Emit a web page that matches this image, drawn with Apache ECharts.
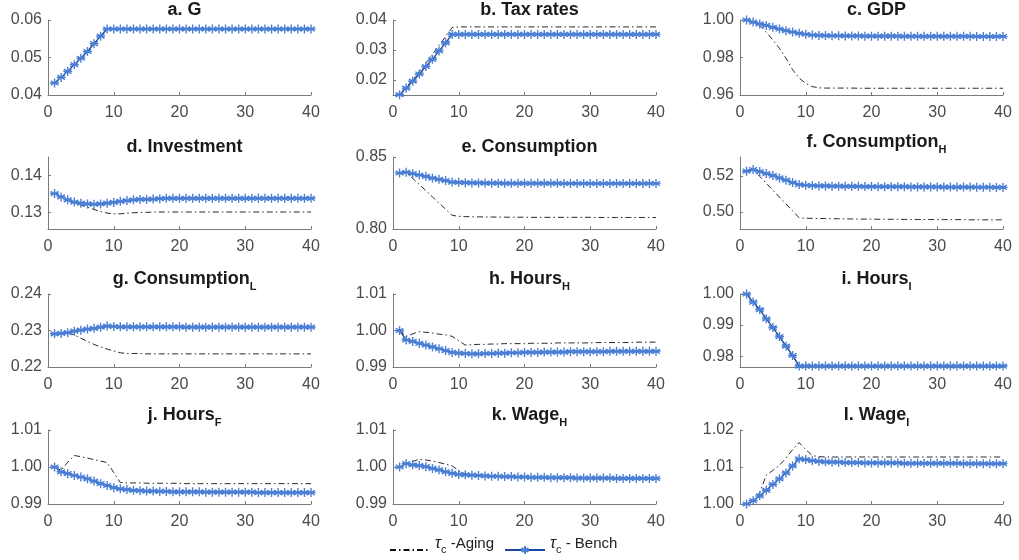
<!DOCTYPE html>
<html>
<head>
<meta charset="utf-8">
<script src="https://cdn.jsdelivr.net/npm/echarts@6/dist/echarts.min.js"></script>
<style>
  html, body { margin: 0; padding: 0; background: #fff; }
  #chart { width: 1019px; height: 560px; }
</style>
</head>
<body>
<div id="chart"></div>
<script>
// periods on the x axis
var periods = [1, 2, 3, 4, 5, 6, 7, 8, 9, 10, 11, 12, 13, 14, 15, 16, 17, 18, 19, 20,
  21, 22, 23, 24, 25, 26, 27, 28, 29, 30, 31, 32, 33, 34, 35, 36, 37, 38, 39, 40];

// a. G
var gBench = [0.0432, 0.0447, 0.0463, 0.0481, 0.0498, 0.0516, 0.0537, 0.0557, 0.0576, 0.0576,
  0.0576, 0.0576, 0.0576, 0.0576, 0.0576, 0.0576, 0.0576, 0.0576, 0.0576, 0.0576,
  0.0576, 0.0576, 0.0576, 0.0576, 0.0576, 0.0576, 0.0576, 0.0576, 0.0576, 0.0576,
  0.0576, 0.0576, 0.0576, 0.0576, 0.0576, 0.0576, 0.0576, 0.0576, 0.0576, 0.0576];
var gAging = [0.0432, 0.0447, 0.0463, 0.0481, 0.0498, 0.0516, 0.0537, 0.0557, 0.0576, 0.0576,
  0.0576, 0.0576, 0.0576, 0.0576, 0.0576, 0.0576, 0.0576, 0.0576, 0.0576, 0.0576,
  0.0576, 0.0576, 0.0576, 0.0576, 0.0576, 0.0576, 0.0576, 0.0576, 0.0576, 0.0576,
  0.0576, 0.0576, 0.0576, 0.0576, 0.0576, 0.0576, 0.0576, 0.0576, 0.0576, 0.0576];

// b. Tax rates
var taxBench = [0.0151, 0.0173, 0.0196, 0.0220, 0.0245, 0.0269, 0.0297, 0.0324, 0.0352, 0.0352,
  0.0352, 0.0352, 0.0352, 0.0352, 0.0352, 0.0352, 0.0352, 0.0352, 0.0352, 0.0352,
  0.0352, 0.0352, 0.0352, 0.0352, 0.0352, 0.0352, 0.0352, 0.0352, 0.0352, 0.0352,
  0.0352, 0.0352, 0.0352, 0.0352, 0.0352, 0.0352, 0.0352, 0.0352, 0.0352, 0.0352];
var taxAging = [0.0150, 0.0176, 0.0201, 0.0228, 0.0256, 0.0285, 0.0315, 0.0345, 0.0375, 0.0377,
  0.0377, 0.0377, 0.0377, 0.0377, 0.0377, 0.0377, 0.0377, 0.0377, 0.0377, 0.0377,
  0.0377, 0.0377, 0.0377, 0.0377, 0.0377, 0.0377, 0.0377, 0.0377, 0.0377, 0.0377,
  0.0377, 0.0377, 0.0377, 0.0377, 0.0377, 0.0377, 0.0377, 0.0377, 0.0377, 0.0377];

// c. GDP
var gdpBench = [1.0000, 0.9989, 0.9979, 0.9971, 0.9961, 0.9952, 0.9943, 0.9936, 0.9929, 0.9924,
  0.9920, 0.9918, 0.9917, 0.9916, 0.9916, 0.9915, 0.9915, 0.9915, 0.9914, 0.9914,
  0.9914, 0.9914, 0.9914, 0.9914, 0.9913, 0.9913, 0.9913, 0.9913, 0.9913, 0.9913,
  0.9913, 0.9913, 0.9913, 0.9913, 0.9913, 0.9912, 0.9912, 0.9912, 0.9912, 0.9912];
var gdpAging = [1.0000, 0.9987, 0.9972, 0.9935, 0.9893, 0.9849, 0.9796, 0.9735, 0.9690, 0.9662,
  0.9645, 0.9638, 0.9637, 0.9637, 0.9637, 0.9637, 0.9637, 0.9636, 0.9636, 0.9636,
  0.9636, 0.9636, 0.9636, 0.9636, 0.9636, 0.9636, 0.9636, 0.9636, 0.9636, 0.9636,
  0.9636, 0.9636, 0.9636, 0.9636, 0.9636, 0.9636, 0.9636, 0.9636, 0.9636, 0.9636];

// d. Investment
var invBench = [0.1351, 0.1342, 0.1334, 0.1328, 0.1325, 0.1323, 0.1322, 0.1323, 0.1325, 0.1327,
  0.1330, 0.1332, 0.1334, 0.1335, 0.1335, 0.1336, 0.1337, 0.1338, 0.1338, 0.1338,
  0.1338, 0.1338, 0.1338, 0.1338, 0.1338, 0.1338, 0.1338, 0.1338, 0.1338, 0.1338,
  0.1338, 0.1338, 0.1338, 0.1338, 0.1338, 0.1338, 0.1338, 0.1338, 0.1338, 0.1338];
var invAging = [0.1351, 0.1342, 0.1333, 0.1326, 0.1320, 0.1314, 0.1308, 0.1302, 0.1298, 0.1296,
  0.1296, 0.1298, 0.1299, 0.1300, 0.1300, 0.1301, 0.1301, 0.1301, 0.1301, 0.1301,
  0.1301, 0.1301, 0.1301, 0.1301, 0.1301, 0.1301, 0.1301, 0.1301, 0.1301, 0.1301,
  0.1301, 0.1301, 0.1301, 0.1301, 0.1301, 0.1301, 0.1301, 0.1301, 0.1301, 0.1301];

// e. Consumption
var consBench = [0.8389, 0.8394, 0.8384, 0.8375, 0.8366, 0.8354, 0.8345, 0.8336, 0.8326, 0.8324,
  0.8322, 0.8320, 0.8320, 0.8319, 0.8318, 0.8318, 0.8317, 0.8317, 0.8317, 0.8317,
  0.8317, 0.8317, 0.8317, 0.8317, 0.8317, 0.8316, 0.8316, 0.8316, 0.8316, 0.8316,
  0.8316, 0.8316, 0.8316, 0.8316, 0.8316, 0.8316, 0.8316, 0.8316, 0.8316, 0.8316];
var consAging = [0.8389, 0.8394, 0.8351, 0.8309, 0.8266, 0.8223, 0.8180, 0.8138, 0.8095, 0.8088,
  0.8086, 0.8085, 0.8084, 0.8084, 0.8083, 0.8083, 0.8082, 0.8082, 0.8082, 0.8082,
  0.8081, 0.8081, 0.8081, 0.8081, 0.8081, 0.8081, 0.8081, 0.8081, 0.8081, 0.8081,
  0.8080, 0.8080, 0.8080, 0.8080, 0.8080, 0.8080, 0.8080, 0.8080, 0.8080, 0.8080];

// f. Consumption_H
var consHBench = [0.5226, 0.5235, 0.5224, 0.5213, 0.5202, 0.5189, 0.5176, 0.5163, 0.5152, 0.5148,
  0.5146, 0.5144, 0.5144, 0.5143, 0.5143, 0.5142, 0.5142, 0.5142, 0.5141, 0.5141,
  0.5140, 0.5140, 0.5140, 0.5140, 0.5140, 0.5139, 0.5139, 0.5139, 0.5139, 0.5139,
  0.5138, 0.5138, 0.5138, 0.5138, 0.5138, 0.5137, 0.5137, 0.5137, 0.5136, 0.5136];
var consHAging = [0.5226, 0.5235, 0.5197, 0.5159, 0.5120, 0.5082, 0.5044, 0.5006, 0.4967, 0.4965,
  0.4964, 0.4963, 0.4963, 0.4962, 0.4962, 0.4961, 0.4961, 0.4960, 0.4960, 0.4960,
  0.4959, 0.4959, 0.4959, 0.4959, 0.4958, 0.4958, 0.4958, 0.4958, 0.4958, 0.4957,
  0.4957, 0.4957, 0.4957, 0.4957, 0.4956, 0.4956, 0.4956, 0.4956, 0.4956, 0.4956];

// g. Consumption_L
var consLBench = [0.2291, 0.2292, 0.2294, 0.2298, 0.2301, 0.2304, 0.2306, 0.2309, 0.2312, 0.2311,
  0.2310, 0.2310, 0.2310, 0.2310, 0.2310, 0.2310, 0.2310, 0.2310, 0.2310, 0.2310,
  0.2309, 0.2309, 0.2309, 0.2309, 0.2309, 0.2309, 0.2309, 0.2309, 0.2309, 0.2309,
  0.2309, 0.2309, 0.2309, 0.2309, 0.2309, 0.2309, 0.2309, 0.2309, 0.2309, 0.2309];
var consLAging = [0.2291, 0.2292, 0.2294, 0.2288, 0.2279, 0.2270, 0.2262, 0.2255, 0.2249, 0.2244,
  0.2239, 0.2237, 0.2237, 0.2237, 0.2236, 0.2236, 0.2236, 0.2236, 0.2236, 0.2236,
  0.2236, 0.2236, 0.2236, 0.2236, 0.2236, 0.2236, 0.2236, 0.2236, 0.2236, 0.2236,
  0.2236, 0.2236, 0.2236, 0.2236, 0.2236, 0.2236, 0.2236, 0.2236, 0.2236, 0.2236];

// h. Hours_H
var hoursHBench = [1.0000, 0.9974, 0.9970, 0.9965, 0.9960, 0.9955, 0.9950, 0.9945, 0.9940, 0.9938,
  0.9937, 0.9936, 0.9936, 0.9937, 0.9937, 0.9938, 0.9938, 0.9939, 0.9939, 0.9940,
  0.9940, 0.9940, 0.9941, 0.9941, 0.9941, 0.9941, 0.9942, 0.9942, 0.9942, 0.9942,
  0.9942, 0.9942, 0.9943, 0.9943, 0.9943, 0.9943, 0.9943, 0.9943, 0.9943, 0.9943];
var hoursHAging = [1.0000, 0.9983, 0.9991, 0.9997, 0.9995, 0.9993, 0.9990, 0.9988, 0.9984, 0.9972,
  0.9960, 0.9961, 0.9962, 0.9962, 0.9963, 0.9963, 0.9964, 0.9964, 0.9964, 0.9964,
  0.9965, 0.9965, 0.9965, 0.9965, 0.9966, 0.9966, 0.9966, 0.9966, 0.9966, 0.9966,
  0.9967, 0.9967, 0.9967, 0.9967, 0.9967, 0.9967, 0.9968, 0.9968, 0.9968, 0.9968];

// i. Hours_I
var hoursIBench = [1.0000, 0.9974, 0.9950, 0.9920, 0.9892, 0.9863, 0.9832, 0.9802, 0.9768, 0.9768,
  0.9768, 0.9768, 0.9768, 0.9768, 0.9768, 0.9768, 0.9768, 0.9768, 0.9768, 0.9768,
  0.9768, 0.9768, 0.9768, 0.9768, 0.9768, 0.9768, 0.9768, 0.9768, 0.9768, 0.9768,
  0.9768, 0.9768, 0.9768, 0.9768, 0.9768, 0.9768, 0.9768, 0.9768, 0.9768, 0.9768];
var hoursIAging = [1.0000, 0.9974, 0.9950, 0.9920, 0.9892, 0.9863, 0.9832, 0.9802, 0.9768, 0.9768,
  0.9768, 0.9768, 0.9768, 0.9768, 0.9768, 0.9768, 0.9768, 0.9768, 0.9768, 0.9768,
  0.9768, 0.9768, 0.9768, 0.9768, 0.9768, 0.9768, 0.9768, 0.9768, 0.9768, 0.9768,
  0.9768, 0.9768, 0.9768, 0.9768, 0.9768, 0.9768, 0.9768, 0.9768, 0.9768, 0.9768];

// j. Hours_F
var hoursFBench = [1.0000, 0.9987, 0.9982, 0.9977, 0.9973, 0.9968, 0.9962, 0.9955, 0.9950, 0.9944,
  0.9941, 0.9939, 0.9937, 0.9936, 0.9935, 0.9935, 0.9934, 0.9934, 0.9933, 0.9933,
  0.9933, 0.9933, 0.9933, 0.9932, 0.9932, 0.9932, 0.9932, 0.9932, 0.9932, 0.9932,
  0.9932, 0.9931, 0.9931, 0.9931, 0.9931, 0.9931, 0.9931, 0.9931, 0.9931, 0.9931];
var hoursFAging = [1.0000, 0.9991, 1.0013, 1.0031, 1.0028, 1.0024, 1.0020, 1.0016, 1.0012, 0.9985,
  0.9958, 0.9957, 0.9957, 0.9957, 0.9956, 0.9956, 0.9956, 0.9956, 0.9956, 0.9956,
  0.9955, 0.9955, 0.9955, 0.9955, 0.9955, 0.9955, 0.9955, 0.9955, 0.9955, 0.9955,
  0.9955, 0.9955, 0.9955, 0.9955, 0.9955, 0.9955, 0.9955, 0.9955, 0.9955, 0.9955];

// k. Wage_H
var wageHBench = [1.0000, 1.0009, 1.0006, 1.0004, 1.0001, 0.9996, 0.9992, 0.9987, 0.9983, 0.9980,
  0.9979, 0.9978, 0.9977, 0.9976, 0.9975, 0.9975, 0.9974, 0.9974, 0.9973, 0.9973,
  0.9972, 0.9972, 0.9972, 0.9971, 0.9971, 0.9971, 0.9971, 0.9970, 0.9970, 0.9970,
  0.9970, 0.9970, 0.9970, 0.9969, 0.9969, 0.9969, 0.9969, 0.9969, 0.9969, 0.9969];
var wageHAging = [1.0000, 1.0009, 1.0015, 1.0021, 1.0019, 1.0016, 1.0012, 1.0008, 1.0003, 0.9990,
  0.9981, 0.9978, 0.9976, 0.9975, 0.9974, 0.9973, 0.9973, 0.9972, 0.9972, 0.9971,
  0.9971, 0.9971, 0.9970, 0.9970, 0.9970, 0.9970, 0.9969, 0.9969, 0.9969, 0.9969,
  0.9969, 0.9969, 0.9969, 0.9968, 0.9968, 0.9968, 0.9968, 0.9968, 0.9968, 0.9968];

// l. Wage_I
var wageIBench = [1.0000, 1.0009, 1.0022, 1.0037, 1.0053, 1.0068, 1.0084, 1.0103, 1.0122, 1.0120,
  1.0117, 1.0115, 1.0114, 1.0113, 1.0113, 1.0112, 1.0112, 1.0112, 1.0111, 1.0111,
  1.0111, 1.0111, 1.0111, 1.0111, 1.0110, 1.0110, 1.0110, 1.0110, 1.0110, 1.0110,
  1.0110, 1.0110, 1.0110, 1.0109, 1.0109, 1.0109, 1.0109, 1.0109, 1.0109, 1.0109];
var wageIAging = [1.0000, 1.0008, 1.0031, 1.0078, 1.0091, 1.0105, 1.0124, 1.0147, 1.0166, 1.0147,
  1.0131, 1.0128, 1.0127, 1.0127, 1.0127, 1.0127, 1.0127, 1.0127, 1.0127, 1.0127,
  1.0127, 1.0127, 1.0127, 1.0127, 1.0127, 1.0127, 1.0127, 1.0127, 1.0127, 1.0127,
  1.0127, 1.0127, 1.0127, 1.0127, 1.0127, 1.0127, 1.0127, 1.0127, 1.0127, 1.0127];

// tick labels
var xTicks = [0, 10, 20, 30, 40];
var ticksG = [0.04, 0.05, 0.06];
var ticksTax = [0.02, 0.03, 0.04];
var ticksGdp = [0.96, 0.98, 1.00];
var ticksInv = [0.13, 0.14];
var ticksCons = [0.80, 0.85];
var ticksConsH = [0.50, 0.52];
var ticksConsL = [0.22, 0.23, 0.24];
var ticksHoursH = [0.99, 1.00, 1.01];
var ticksHoursI = [0.98, 0.99, 1.00];
var ticksHoursF = [0.99, 1.00, 1.01];
var ticksWageH = [0.99, 1.00, 1.01];
var ticksWageI = [1.00, 1.01, 1.02];

var FONT = "'Liberation Sans', Arial, Helvetica, sans-serif";
var panels = [
  { title: "{m|a. G}", aging: gAging, bench: gBench, min: 0.04, max: 0.06, ticks: ticksG },
  { title: "{m|b. Tax rates}", aging: taxAging, bench: taxBench, min: 0.015, max: 0.04, ticks: ticksTax },
  { title: "{m|c. GDP}", aging: gdpAging, bench: gdpBench, min: 0.96, max: 1.0, ticks: ticksGdp },
  { title: "{m|d. Investment}", aging: invAging, bench: invBench, min: 0.1255, max: 0.145, ticks: ticksInv },
  { title: "{m|e. Consumption}", aging: consAging, bench: consBench, min: 0.8, max: 0.85, ticks: ticksCons },
  { title: "{m|f. Consumption}{s|H}", aging: consHAging, bench: consHBench, min: 0.4905, max: 0.5305, ticks: ticksConsH },
  { title: "{m|g. Consumption}{s|L}", aging: consLAging, bench: consLBench, min: 0.22, max: 0.24, ticks: ticksConsL },
  { title: "{m|h. Hours}{s|H}", aging: hoursHAging, bench: hoursHBench, min: 0.99, max: 1.01, ticks: ticksHoursH },
  { title: "{m|i. Hours}{s|I}", aging: hoursIAging, bench: hoursIBench, min: 0.9765, max: 1.0, ticks: ticksHoursI },
  { title: "{m|j. Hours}{s|F}", aging: hoursFAging, bench: hoursFBench, min: 0.99, max: 1.01, ticks: ticksHoursF },
  { title: "{m|k. Wage}{s|H}", aging: wageHAging, bench: wageHBench, min: 0.99, max: 1.01, ticks: ticksWageH },
  { title: "{m|l. Wage}{s|I}", aging: wageIAging, bench: wageIBench, min: 1.0, max: 1.02, ticks: ticksWageI }
];

var colLeft = [48, 393, 740];
var colWidth = 263;
var rowTop = [20, 157, 294, 430];
var rowHeight = [75, 72, 73, 74];

// MATLAB-like asterisk marker
var asterisk = "path://M5,0L5,10M0.67,2.5L9.33,7.5M0.67,7.5L9.33,2.5M0,5L10,5";

var grids = [], xAxes = [], yAxes = [], titles = [], series = [];
panels.forEach(function (p, i) {
  var col = i % 3, row = Math.floor(i / 3);
  var hasSub = p.title.indexOf("{s|") >= 0;
  grids.push({ left: colLeft[col], top: rowTop[row], width: colWidth, height: rowHeight[row] });
  titles.push({
    text: p.title,
    left: colLeft[col] + colWidth / 2,
    top: rowTop[row] - 24 - (hasSub ? 5 : 0),
    textAlign: "center",
    textStyle: {
      rich: {
        m: { fontFamily: FONT, fontSize: 18, fontWeight: "bold", color: "#1a1a1a", lineHeight: 20, verticalAlign: "top" },
        s: { fontFamily: FONT, fontSize: 11, fontWeight: "bold", color: "#1a1a1a", lineHeight: 34, verticalAlign: "middle" }
      }
    }
  });
  xAxes.push({
    gridIndex: i, type: "value", min: 0, max: 40, interval: 10,
    axisLine: { show: true, onZero: false, lineStyle: { color: "#7a7a7a", width: 1 } },
    axisTick: { show: true, inside: true, length: 3, lineStyle: { color: "#7a7a7a" } },
    axisLabel: { fontFamily: FONT, fontSize: 16, color: "#4a4a4a", margin: 10, customValues: xTicks },
    splitLine: { show: false }
  });
  yAxes.push({
    gridIndex: i, type: "value", min: p.min, max: p.max,
    axisLine: { show: true, onZero: false, lineStyle: { color: "#7a7a7a", width: 1 } },
    axisTick: { show: true, inside: true, length: 3, lineStyle: { color: "#7a7a7a" }, customValues: p.ticks },
    axisLabel: {
      fontFamily: FONT, fontSize: 16, color: "#4a4a4a", margin: 6, customValues: p.ticks,
      formatter: function (v) { return v.toFixed(2); }
    },
    splitLine: { show: false }
  });
  series.push({
    name: "Aging", type: "line", xAxisIndex: i, yAxisIndex: i,
    data: periods.map(function (t, k) { return [t, p.aging[k]]; }),
    symbol: "none", silent: true,
    lineStyle: { color: "#111", width: 0.9, type: [6, 3, 1.5, 3] },
    itemStyle: { color: "#111" }
  });
  series.push({
    name: "Bench", type: "line", xAxisIndex: i, yAxisIndex: i,
    data: periods.map(function (t, k) { return [t, p.bench[k]]; }),
    symbol: asterisk, symbolSize: 9, showAllSymbol: true, silent: true,
    lineStyle: { color: "#1a47a0", width: 1.3 },
    itemStyle: { color: "#4a7fd4", borderColor: "#4a7fd4", borderWidth: 1.4 }
  });
});

var myChart = echarts.init(document.getElementById("chart"));
var option = {
  animation: false,
  backgroundColor: "#fff",
  title: titles,
  grid: grids,
  xAxis: xAxes,
  yAxis: yAxes,
  legend: {
    data: [{ name: "Aging", itemStyle: { opacity: 0 } }, { name: "Bench" }],
    left: 384, top: 531,
    itemWidth: 40, itemHeight: 10, itemGap: 10,
    formatter: function (name) {
      return name === "Aging" ? "{t|τ}{c|c}{n| -Aging}" : "{t|τ}{c|c}{n| - Bench}";
    },
    textStyle: {
      fontFamily: FONT, fontSize: 15, color: "#222",
      rich: {
        t: { fontFamily: FONT, fontSize: 16, fontStyle: "italic", color: "#222", lineHeight: 18, verticalAlign: "top" },
        c: { fontFamily: FONT, fontSize: 11, color: "#222", lineHeight: 28, verticalAlign: "middle" },
        n: { fontFamily: FONT, fontSize: 15, color: "#222", lineHeight: 18, verticalAlign: "top" }
      }
    }
  },
  series: series
};
myChart.setOption(option);
</script>
</body>
</html>
